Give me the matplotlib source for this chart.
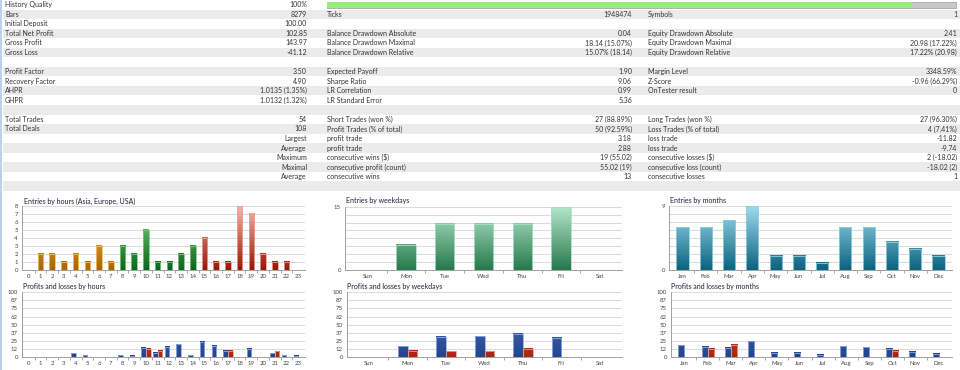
import numpy as np
import matplotlib
matplotlib.use("Agg")
import matplotlib.pyplot as plt
from matplotlib.colors import LinearSegmentedColormap
from matplotlib.patches import Rectangle

plt.rcParams["font.family"] = ["Lato", "DejaVu Sans"]

# ---- report table ----
col1_labels = ["History Quality", "Bars", "Initial Deposit", "Total Net Profit", "Gross Profit",
               "Gross Loss", "", "Profit Factor", "Recovery Factor", "AHPR", "GHPR", "",
               "Total Trades", "Total Deals", "", "", "", "", "", ""]
col1_values = ["100%", "8279", "100.00", "102.85", "143.97", "-41.12", "", "3.50", "4.90",
               "1.0135 (1.35%)", "1.0132 (1.32%)", "", "54", "108", "Largest", "Average",
               "Maximum", "Maximal", "Average", ""]
col2_labels = ["", "Ticks", "", "Balance Drawdown Absolute", "Balance Drawdown Maximal",
               "Balance Drawdown Relative", "", "Expected Payoff", "Sharpe Ratio", "LR Correlation",
               "LR Standard Error", "", "Short Trades (won %)", "Profit Trades (% of total)",
               "profit trade", "profit trade", "consecutive wins ($)", "consecutive profit (count)",
               "consecutive wins", ""]
col2_values = ["", "1948474", "", "0.04", "18.14 (15.07%)", "15.07% (18.14)", "", "1.90", "9.06",
               "0.99", "5.36", "", "27 (88.89%)", "50 (92.59%)", "3.18", "2.88", "19 (55.02)",
               "55.02 (19)", "13", ""]
col3_labels = ["", "Symbols", "", "Equity Drawdown Absolute", "Equity Drawdown Maximal",
               "Equity Drawdown Relative", "", "Margin Level", "Z-Score", "OnTester result", "", "",
               "Long Trades (won %)", "Loss Trades (% of total)", "loss trade", "loss trade",
               "consecutive losses ($)", "consecutive loss (count)", "consecutive losses", ""]
col3_values = ["", "1", "", "2.41", "20.98 (17.22%)", "17.22% (20.98)", "", "3348.59%",
               "-0.96 (66.29%)", "0", "", "", "27 (96.30%)", "4 (7.41%)", "-11.82", "-9.74",
               "2 (-18.02)", "-18.02 (2)", "1", ""]
quality_bar = 0.93

# ---- charts ----
hours = [str(h) for h in range(24)]
entries_by_hour = [0, 2, 2, 1, 2, 1, 3, 1, 3, 2, 5, 1, 1, 2, 3, 4, 1, 1, 8, 7, 2, 1, 1, 0]
weekdays = ["Sun", "Mon", "Tue", "Wed", "Thu", "Fri", "Sat"]
entries_by_weekday = [0, 6, 11, 11, 11, 15, 0]
months = ["Jan", "Feb", "Mar", "Apr", "May", "Jun", "Jul", "Aug", "Sep", "Oct", "Nov", "Dec"]
entries_by_month = [6, 6, 7, 9, 2, 2, 1, 6, 6, 4, 3, 2]

profit_by_hour = [0, 0, 0, 0, 5.7, 3.0, 0, 0, 2.6, 2.0, 14.4, 6.2, 15.5, 20.0, 3.0, 23.7, 17.5,
                  9.3, 0, 12.4, 0, 5.7, 3.0, 2.0]
loss_by_hour = [0, 0, 0, 0, 0, 0, 0, 0, 0, 0, 12.4, 9.3, 0, 0, 0, 0, 0, 9.3, 0, 0, 0, 8.8, 0, 0]
profit_by_weekday = [0, 17.0, 31.0, 32.0, 35.6, 30.0, 0]
loss_by_weekday = [0, 9.3, 8.8, 8.8, 12.4, 0, 0]
profit_by_month = [18.0, 15.5, 14.4, 24.7, 6.2, 6.2, 3.6, 17.0, 15.0, 12.4, 8.2, 5.2]
loss_by_month = [0, 12.4, 18.6, 0, 0, 0, 0, 0, 0, 9.3, 0, 0]

W, H = 960, 370
fig = plt.figure(figsize=(W / 100, H / 100), dpi=100)
fig.patch.set_facecolor("white")

tab = fig.add_axes([0, 0, 1, 1])
tab.set_xlim(0, W)
tab.set_ylim(H, 0)
tab.axis("off")

row_h = 9.55
txt = dict(fontsize=5, color="#333333", va="center")
for i in range(len(col1_labels)):
    y0 = i * row_h
    if i % 2 == 1:
        tab.add_patch(Rectangle((3, y0), W, row_h, color="#ebebeb", lw=0))
    yc = y0 + row_h / 2
    tab.text(5, yc, col1_labels[i], ha="left", **txt)
    tab.text(307, yc, col1_values[i], ha="right", **txt)
    tab.text(327, yc, col2_labels[i], ha="left", **txt)
    tab.text(632, yc, col2_values[i], ha="right", **txt)
    tab.text(648, yc, col3_labels[i], ha="left", **txt)
    tab.text(957, yc, col3_values[i], ha="right", **txt)

# history quality bar
qx0, qx1 = 327, 956
tab.add_patch(Rectangle((qx0, 1.5), qx1 - qx0, 6.5, fc="#c8c8c8", ec="#a8a8a8", lw=0.6))
tab.add_patch(Rectangle((qx0, 1.5), (qx1 - qx0) * quality_bar, 6.5, fc="#94ee78", lw=0))
tab.add_patch(Rectangle((0, 0), 2.2, H, color="#bcd2ec", lw=0))


def cmap(dark, light):
    return LinearSegmentedColormap.from_list("c", [dark, light])


orange = cmap("#a86400", "#ffd27a")
green = cmap("#0b661c", "#8ad88a")
red = cmap("#961808", "#f6b8b0")
wk_green = cmap("#277a4c", "#b4e6cc")
mo_blue = cmap("#0c6480", "#9edaec")
pl_blue = cmap("#24458e", "#5a7cc4")
pl_red = cmap("#a52814", "#d85a40")


def grad_bars(ax, xs, heights, width, cm, ymax, edge):
    for x, h in zip(xs, heights):
        if h <= 0:
            continue
        g = np.linspace(0, h / ymax, 64).reshape(-1, 1)
        ax.imshow(g, extent=(x - width / 2, x + width / 2, 0, h), origin="lower", cmap=cm,
                  vmin=0, vmax=1, aspect="auto", interpolation="bilinear", zorder=3)
        ax.add_patch(Rectangle((x - width / 2, 0), width, h, fill=False, ec=edge, lw=0.6,
                               zorder=4))


def chart(left, right, top, bottom):
    return fig.add_axes([left / W, 1 - bottom / H, (right - left) / W, (bottom - top) / H])


def style(ax, labels, ymax, ylabels, title, tx, ty):
    n = len(labels)
    ax.set_facecolor("none")
    ax.set_xlim(-0.58, n - 0.42)
    ax.set_ylim(0, ymax)
    ax.set_yticks(np.linspace(0, ymax, 9))
    ax.set_yticklabels(ylabels)
    ax.set_xticks(range(n))
    ax.set_xticklabels(labels)
    ax.set_xticks(np.arange(n - 1) + 0.5, minor=True)
    ax.tick_params(axis="x", which="major", length=0, labelsize=4.3, pad=3, colors="#444444")
    ax.tick_params(axis="x", which="minor", length=2.2, color="#9a9a9a")
    ax.tick_params(axis="y", length=0, labelsize=4.3, pad=3, colors="#444444")
    ax.grid(axis="y", color="#d9d9d9", lw=0.7)
    ax.set_axisbelow(True)
    for s in ["top", "right"]:
        ax.spines[s].set_visible(False)
    for s in ["left", "bottom"]:
        ax.spines[s].set_color("#a0a0a0")
        ax.spines[s].set_linewidth(0.7)
    fig.text(tx / W, 1 - ty / H, title, fontsize=5, color="#1e1e3c", ha="left", va="center")


# entries by hours
ax = chart(22, 305, 205.7, 270)
x = np.arange(24)
for lo, hi, cm, ec in [(0, 8, orange, "#f3c060"), (8, 15, green, "#7cc87c"), (15, 24, red, "#f0a090")]:
    grad_bars(ax, x[lo:hi], entries_by_hour[lo:hi], 0.48, cm, 8, ec)
style(ax, hours, 8, [str(v) for v in range(9)], "Entries by hours (Asia, Europe, USA)", 24, 201)

# entries by weekdays
ax = chart(345, 622, 206.7, 270)
grad_bars(ax, np.arange(7), entries_by_weekday, 0.5, wk_green, 15, "#a8e0c4")
style(ax, weekdays, 15, ["0"] + [""] * 7 + ["15"], "Entries by weekdays", 346, 201)

# entries by months
ax = chart(669, 952, 206, 270)
grad_bars(ax, np.arange(12), entries_by_month, 0.52, mo_blue, 9, "#90d0e4")
style(ax, months, 9, ["0"] + [""] * 7 + ["9"], "Entries by months", 670, 201)

pl_labels = ["0", "12", "25", "37", "50", "62", "75", "87", "100"]

# profits and losses by hours
ax = chart(22, 305, 292.3, 357)
grad_bars(ax, x - 0.2, profit_by_hour, 0.4, pl_blue, 100, "#8eaee6")
grad_bars(ax, x + 0.2, loss_by_hour, 0.4, pl_red, 100, "#f09a88")
style(ax, hours, 100, pl_labels, "Profits and losses by hours", 23, 287)

# profits and losses by weekdays
ax = chart(347, 622, 292.3, 357)
xw = np.arange(7)
grad_bars(ax, xw - 0.125, profit_by_weekday, 0.25, pl_blue, 100, "#8eaee6")
grad_bars(ax, xw + 0.125, loss_by_weekday, 0.25, pl_red, 100, "#f09a88")
style(ax, weekdays, 100, pl_labels, "Profits and losses by weekdays", 347, 287)

# profits and losses by months
ax = chart(671, 952, 292.3, 357)
xm = np.arange(12)
grad_bars(ax, xm - 0.13, profit_by_month, 0.26, pl_blue, 100, "#8eaee6")
grad_bars(ax, xm + 0.13, loss_by_month, 0.26, pl_red, 100, "#f09a88")
style(ax, months, 100, pl_labels, "Profits and losses by months", 671, 287)

fig.savefig("out.png", dpi=100)
plt.close(fig)
